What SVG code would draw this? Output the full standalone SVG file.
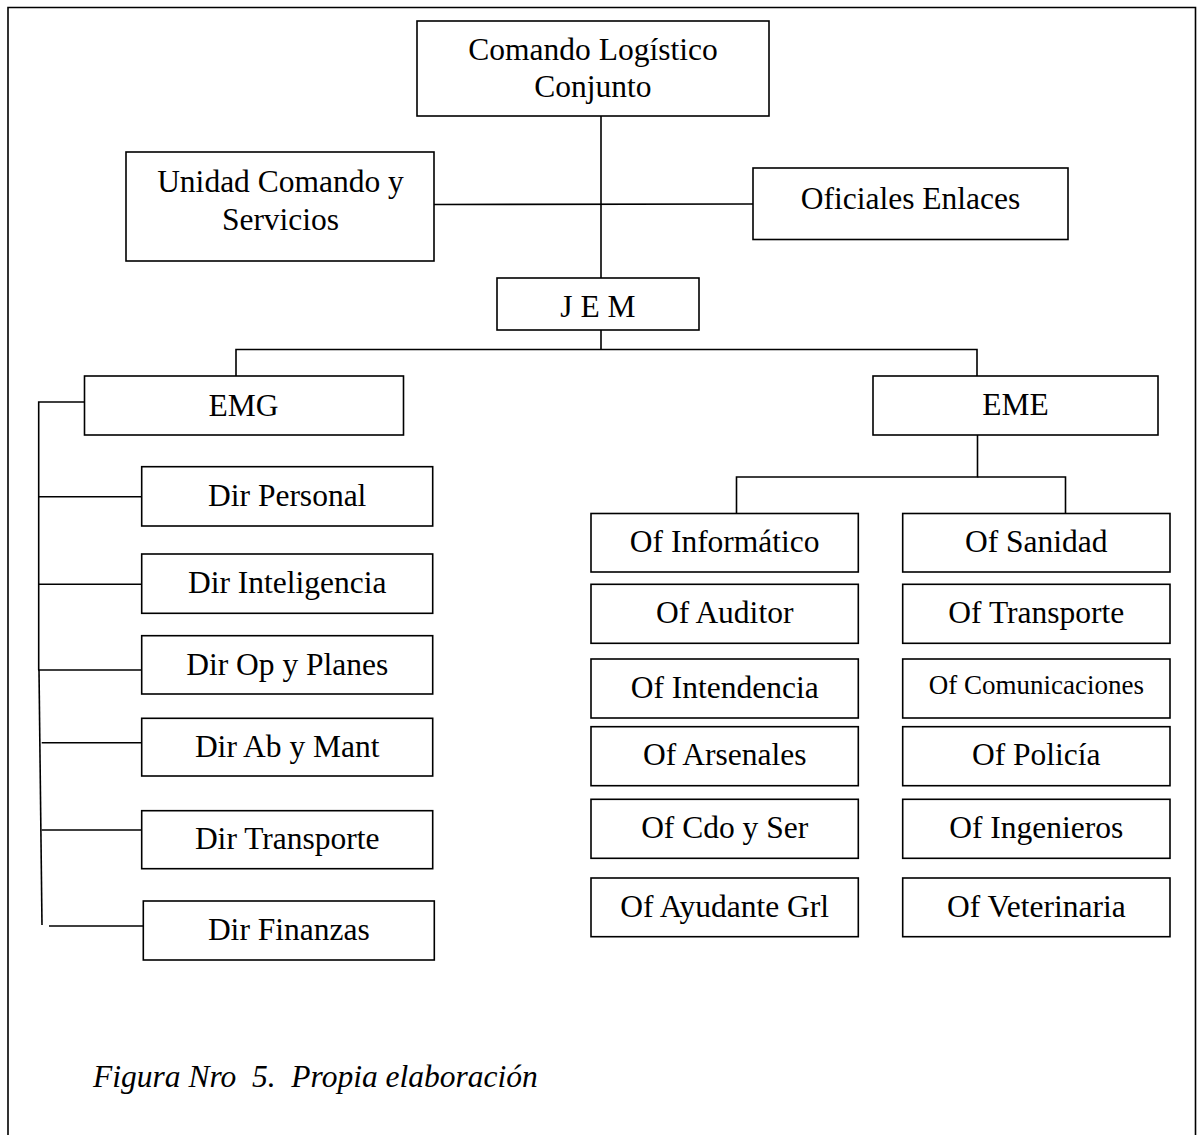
<svg xmlns="http://www.w3.org/2000/svg" width="1199" height="1135" viewBox="0 0 1199 1135">
<style>
rect.box{fill:#fff;stroke:#000;stroke-width:1.6}
.c line,.c path{stroke:#000;stroke-width:1.6;fill:none}
text{font-family:"Liberation Serif","Times New Roman",serif;font-size:31.5px;fill:#000;text-anchor:middle}
text.small{font-size:27px}
text.cap{font-style:italic;font-size:31.5px;text-anchor:start}
</style>
<rect width="1199" height="1135" fill="#fff"/>
<path d="M8,1135 V7.5 H1195.5 V1135" fill="none" stroke="#000" stroke-width="1.6"/>
<g class="c" id="connectors">
<line x1="601" y1="116" x2="601" y2="278"/>
<line x1="434" y1="204.5" x2="754" y2="204"/>
<path d="M601,330 V349.5"/>
<path d="M236,376 V349.5 H977 V376"/>
<path d="M977.5,435 V477 H736.5 V513.5"/>
<path d="M977.5,477 H1065.5 V513.5"/>
<path d="M84.5,402 H38.7 V670"/>
<path d="M39,670 L42,925"/>
<line x1="38.7" y1="496.7" x2="141.7" y2="496.7"/>
<line x1="38.7" y1="584.3" x2="141.7" y2="584.3"/>
<line x1="38" y1="670" x2="141.7" y2="670"/>
<line x1="41.7" y1="742.7" x2="145.7" y2="742.7"/>
<line x1="41.7" y1="830" x2="145.7" y2="830"/>
<line x1="49" y1="926" x2="152.7" y2="926"/>
</g>
<g id="n-comando"><rect class="box" x="417" y="21" width="352" height="95"/><text x="593" y="60">Comando Logístico</text><text x="593" y="97.3">Conjunto</text></g>
<g id="n-unidad"><rect class="box" x="126" y="152" width="308" height="109"/><text x="280.5" y="192.3">Unidad Comando y</text><text x="280.5" y="230">Servicios</text></g>
<g id="n-oficiales"><rect class="box" x="753" y="168" width="315" height="71.5"/><text x="910.5" y="209">Oficiales Enlaces</text></g>
<g id="n-jem"><rect class="box" x="497" y="278" width="202" height="52"/><text x="598" y="316.7" xml:space="preserve">J E M</text></g>
<g id="n-emg"><rect class="box" x="84.5" y="376" width="319" height="59"/><text x="243.5" y="415.7">EMG</text></g>
<g id="n-eme"><rect class="box" x="873" y="376" width="285" height="59"/><text x="1015.5" y="415">EME</text></g>
<g id="n-dir-personal"><rect class="box" x="141.7" y="466.7" width="291" height="59.3"/><text x="287.2" y="505.7">Dir Personal</text></g>
<g id="n-dir-inteligencia"><rect class="box" x="141.7" y="554" width="291" height="59.3"/><text x="287.2" y="593.3">Dir Inteligencia</text></g>
<g id="n-dir-op"><rect class="box" x="141.7" y="635.7" width="291" height="58.3"/><text x="287.2" y="675">Dir Op y Planes</text></g>
<g id="n-dir-ab"><rect class="box" x="141.7" y="718.3" width="291" height="57.7"/><text x="287.2" y="756.7">Dir Ab y Mant</text></g>
<g id="n-dir-transporte"><rect class="box" x="141.7" y="810.7" width="291" height="58"/><text x="287.2" y="849.3">Dir Transporte</text></g>
<g id="n-dir-finanzas"><rect class="box" x="143.3" y="901" width="291" height="59"/><text x="288.8" y="940">Dir Finanzas</text></g>
<g id="n-of-informatico"><rect class="box" x="591" y="513.5" width="267.3" height="58.5"/><text x="724.7" y="552.3">Of Informático</text></g>
<g id="n-of-auditor"><rect class="box" x="591" y="584.3" width="267.3" height="59"/><text x="724.7" y="623.3">Of Auditor</text></g>
<g id="n-of-intendencia"><rect class="box" x="591" y="659" width="267.3" height="59"/><text x="724.7" y="698.3">Of Intendencia</text></g>
<g id="n-of-arsenales"><rect class="box" x="591" y="726.7" width="267.3" height="59"/><text x="724.7" y="765">Of Arsenales</text></g>
<g id="n-of-cdo"><rect class="box" x="591" y="799.3" width="267.3" height="59"/><text x="724.7" y="838.3">Of Cdo y Ser</text></g>
<g id="n-of-ayudante"><rect class="box" x="591" y="878" width="267.3" height="58.7"/><text x="724.7" y="916.7">Of Ayudante Grl</text></g>
<g id="n-of-sanidad"><rect class="box" x="902.7" y="513.5" width="267.3" height="58.5"/><text x="1036.3" y="552.3">Of Sanidad</text></g>
<g id="n-of-transporte"><rect class="box" x="902.7" y="584.3" width="267.3" height="59"/><text x="1036.3" y="623.3">Of Transporte</text></g>
<g id="n-of-comunicaciones"><rect class="box" x="902.7" y="659" width="267.3" height="59"/><text class="small" x="1036.3" y="694.3">Of Comunicaciones</text></g>
<g id="n-of-policia"><rect class="box" x="902.7" y="726.7" width="267.3" height="59"/><text x="1036.3" y="765">Of Policía</text></g>
<g id="n-of-ingenieros"><rect class="box" x="902.7" y="799.3" width="267.3" height="59"/><text x="1036.3" y="838.3">Of Ingenieros</text></g>
<g id="n-of-veterinaria"><rect class="box" x="902.7" y="878" width="267.3" height="58.7"/><text x="1036.3" y="916.7">Of Veterinaria</text></g>
<text class="cap" x="93" y="1086.7" xml:space="preserve">Figura Nro  5.  Propia elaboración</text>
</svg>
